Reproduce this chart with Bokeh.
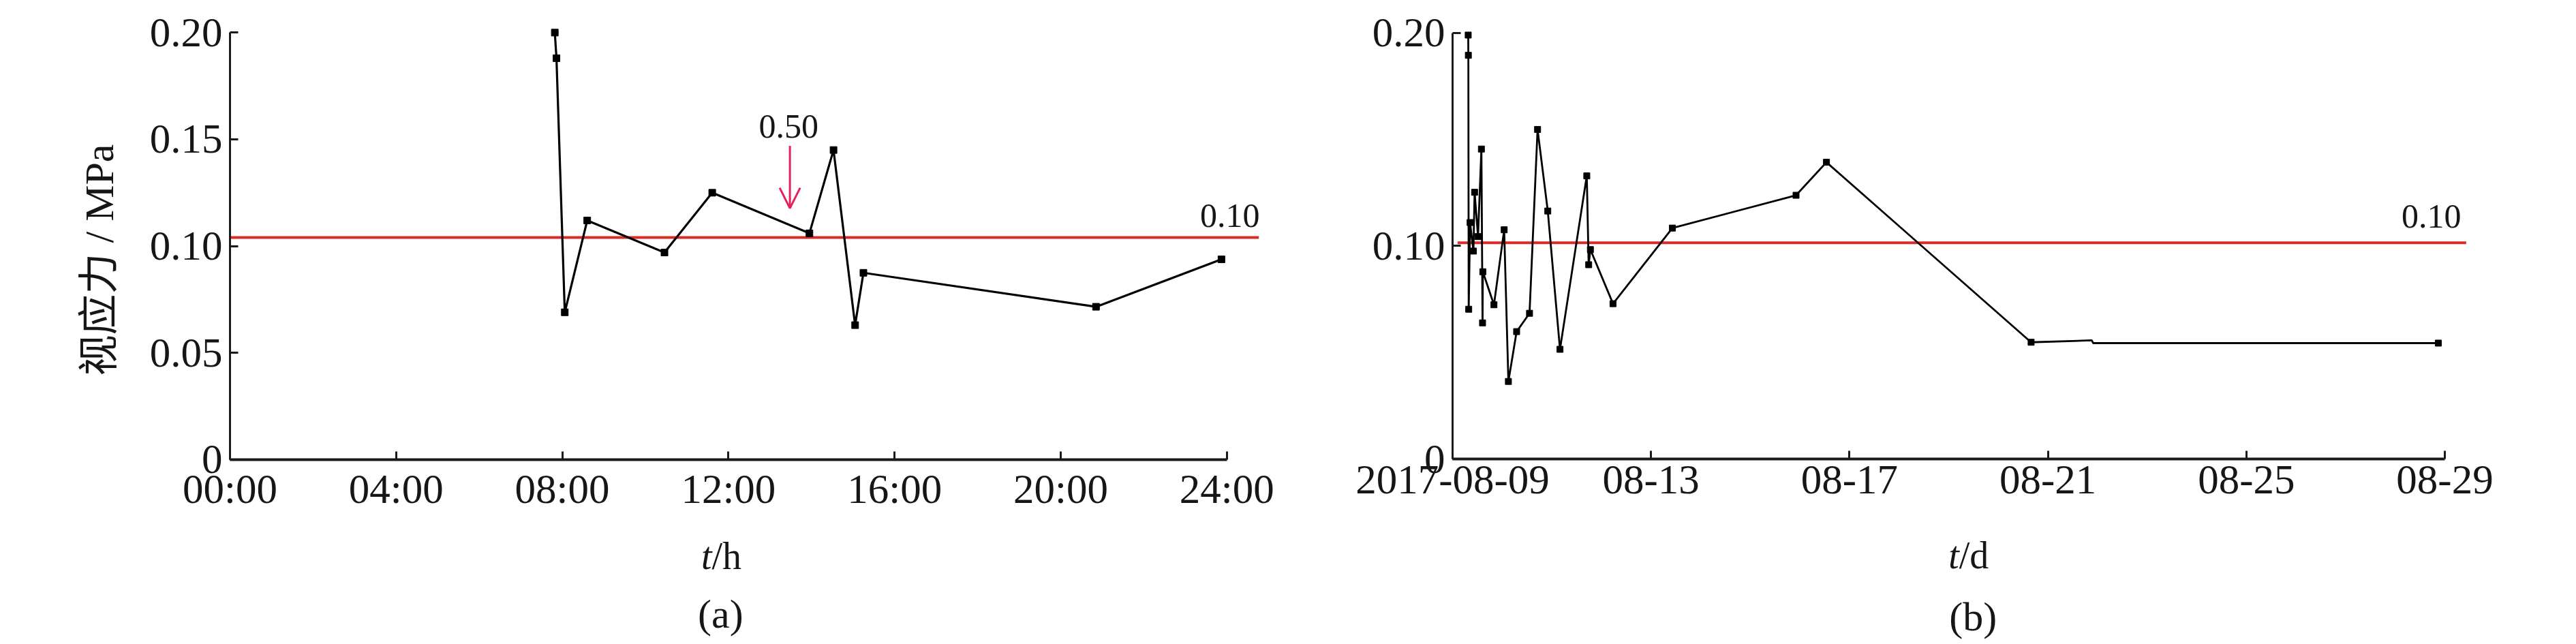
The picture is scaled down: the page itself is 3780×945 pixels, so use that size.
import math
from bokeh.plotting import figure
from bokeh.layouts import row
from bokeh.models import Range1d, FixedTicker, Label, Arrow, OpenHead
from bokeh.embed import file_html
from bokeh.resources import INLINE

# ---------------- data ----------------
# Panel (a): time of day (hours) vs apparent stress (MPa)
hours_a = [7.82, 7.86, 8.06, 8.60, 10.46, 11.61, 13.95, 14.53, 15.05, 15.25, 20.85, 23.87]
stress_a = [0.200, 0.188, 0.069, 0.112, 0.097, 0.125, 0.106, 0.145, 0.063, 0.0875, 0.0716, 0.0938]

# Panel (b): days since 2017-08-09 vs apparent stress (MPa)
days_b = [0.315, 0.318, 0.325, 0.353, 0.42, 0.444, 0.513, 0.581, 0.604, 0.61, 0.834,
          1.04, 1.125, 1.291, 1.551, 1.713, 1.919, 2.165, 2.705, 2.743, 2.778, 3.234,
          4.431, 6.923, 7.536, 11.661, 12.883, 12.914, 19.869]
stress_b = [0.199, 0.1895, 0.0703, 0.111, 0.0976, 0.1252, 0.1044, 0.1455, 0.0639, 0.0879, 0.0724,
            0.1076, 0.0364, 0.0598, 0.0684, 0.1547, 0.1164, 0.0515, 0.1329, 0.0912, 0.0983, 0.0729,
            0.1084, 0.1238, 0.1393, 0.0548, 0.0557, 0.0544, 0.0544]
unmarked_b = [26, 27]   # tiny step in the tail drawn without markers

x_ticks_a = [0, 4, 8, 12, 16, 20, 24]
x_labels_a = ["00:00", "04:00", "08:00", "12:00", "16:00", "20:00", "24:00"]
x_ticks_b = [0, 4, 8, 12, 16, 20]
x_labels_b = ["2017-08-09", "08-13", "08-17", "08-21", "08-25", "08-29"]
y_ticks_a = [0, 0.05, 0.10, 0.15, 0.20]
y_labels_a = ["0", "0.05", "0.10", "0.15", "0.20"]
y_ticks_b = [0, 0.10, 0.20]
y_labels_b = ["0", "0.10", "0.20"]

limit_a = 0.104
limit_b = 0.1015
limit_text = "0.10"
note_text = "0.50"
note_hour = 13.48
y_title = "视应力 / MPa"
x_var = "t"
x_unit_a = "/h"
x_unit_b = "/d"
panel_a = "(a)"
panel_b = "(b)"

SERIF = "Liberation Serif"
TXT = "#161616"
RED = "#d62d29"
ARROW_RED = "#e3215b"


def style(p, xt, xl, yt, yl, xb, yb):
    p.xaxis.ticker = FixedTicker(ticks=xt)
    p.xaxis.major_label_overrides = {t: l for t, l in zip(xt, xl)}
    p.yaxis.ticker = FixedTicker(ticks=yt)
    p.yaxis.major_label_overrides = {t: l for t, l in zip(yt, yl)}
    p.xaxis.bounds = xb
    p.yaxis.bounds = yb
    p.xaxis.fixed_location = 0
    p.yaxis.fixed_location = 0
    for ax in (p.xaxis, p.yaxis):
        ax.major_label_text_font = SERIF
        ax.major_label_text_font_size = "61px"
        ax.major_label_text_color = TXT
        ax.major_tick_in = 12
        ax.major_tick_out = 0
        ax.minor_tick_in = 0
        ax.minor_tick_out = 0
        ax.major_tick_line_color = "#1a1a1a"
        ax.major_tick_line_width = 3
        ax.axis_line_color = "#1a1a1a"
    p.xaxis.axis_line_width = 4
    p.yaxis.axis_line_width = 3
    p.xaxis.major_label_standoff = 10
    p.yaxis.major_label_standoff = 11
    p.xgrid.visible = False
    p.ygrid.visible = False
    p.outline_line_color = None
    p.background_fill_color = "white"
    p.border_fill_color = "white"


def txt(p, x, y, text, size, align="center", style_="normal", angle=0.0, font=SERIF):
    p.add_layout(Label(x=x, y=y, text=text, text_align=align, text_baseline="middle",
                       text_font=font, text_font_size=size, text_font_style=style_,
                       text_color=TXT, angle=angle))


# ---------------- panel (a) ----------------
pa = figure(width=1900, height=940, output_backend="svg", toolbar_location=None,
            x_range=Range1d(-5.529, 25.644), y_range=Range1d(-0.0849, 0.2151),
            min_border=0)
style(pa, x_ticks_a, x_labels_a, y_ticks_a, y_labels_a, (0, 24), (0, 0.2))

pa.line([0, 24.77], [limit_a, limit_a], line_color=RED, line_width=4)
pa.line(hours_a, stress_a, line_color="black", line_width=3.2)
pa.scatter(hours_a, stress_a, marker="square", size=10, color="black")

txt(pa, 24.79, 0.1144, limit_text, "50px", align="right")
txt(pa, 13.45, 0.1561, note_text, "50px")
pa.add_layout(Arrow(x_start=note_hour, y_start=0.147, x_end=note_hour, y_end=0.1177,
                    line_color=ARROW_RED, line_width=3,
                    end=OpenHead(size=30, line_color=ARROW_RED, line_width=3)))

txt(pa, -3.134, 0.0935, y_title, "60px", angle=math.pi / 2, font="Liberation Serif, Noto Sans CJK SC")
txt(pa, 11.60, -0.0453, x_var, "56px", align="right", style_="italic")
txt(pa, 11.60, -0.0453, x_unit_a, "56px", align="left")
txt(pa, 11.81, -0.0724, panel_a, "60px")

# ---------------- panel (b) ----------------
pb = figure(width=1876, height=940, output_backend="svg", toolbar_location=None,
            x_range=Range1d(-3.173, 22.596), y_range=Range1d(-0.0854, 0.2153),
            min_border=0)
style(pb, x_ticks_b, x_labels_b, y_ticks_b, y_labels_b, (0, 20), (0, 0.2))

pb.line([0.1, 20.43], [limit_b, limit_b], line_color=RED, line_width=4)
pb.line(days_b, stress_b, line_color="black", line_width=2.8)
mx = [d for i, d in enumerate(days_b) if i not in unmarked_b]
my = [s for i, s in enumerate(stress_b) if i not in unmarked_b]
pb.scatter(mx, my, marker="square", size=9, color="black")

txt(pb, 20.33, 0.1138, limit_text, "50px", align="right")
txt(pb, 10.21, -0.0454, x_var, "56px", align="right", style_="italic")
txt(pb, 10.21, -0.0454, x_unit_b, "56px", align="left")
txt(pb, 10.49, -0.0742, panel_b, "60px")

layout = row(pa, pb)
open("out.html", "w").write(file_html(layout, INLINE))
